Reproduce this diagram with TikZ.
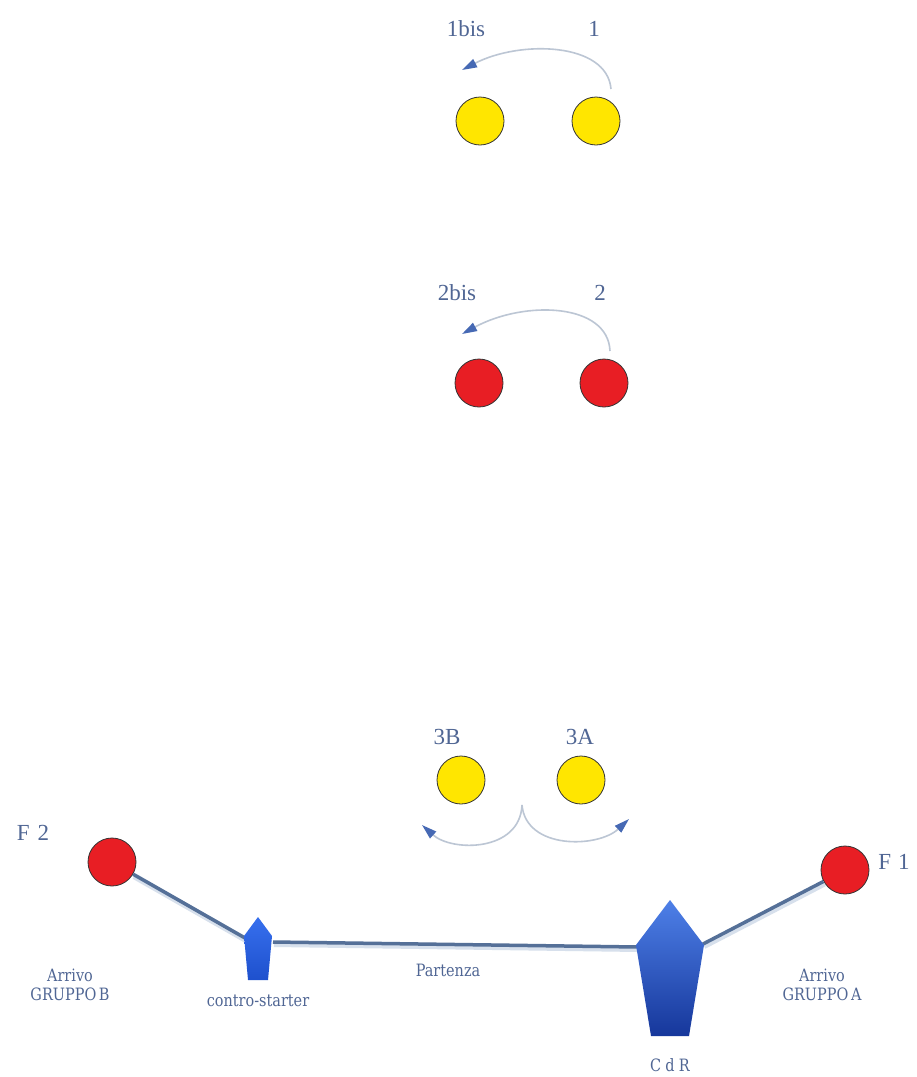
\documentclass[tikz,border=0pt]{standalone}
\usepackage{fontspec}
\setmainfont{Liberation Serif}
\newfontfamily\slab[FakeStretch=0.85]{DejaVu Serif}
\usetikzlibrary{arrows.meta,calc}
\definecolor{lbl}{RGB}{80,102,148}
\definecolor{dotyellow}{RGB}{255,230,0}
\definecolor{dotred}{RGB}{232,30,36}
\definecolor{arcgray}{RGB}{188,198,212}
\definecolor{tipblue}{RGB}{70,105,180}
\definecolor{roadc}{RGB}{85,112,152}
\definecolor{roadshadow}{RGB}{215,224,236}
\definecolor{pentop}{RGB}{78,128,232}
\definecolor{penbot}{RGB}{22,55,155}
\definecolor{cstop}{RGB}{55,112,238}
\definecolor{csbot}{RGB}{30,80,205}
\begin{document}
\begin{tikzpicture}[x=1pt,y=-1pt,
  ydot/.style={circle,draw=black!80,line width=0.8pt,fill=dotyellow,minimum size=48pt,inner sep=0pt},
  rdot/.style={circle,draw=black!80,line width=0.8pt,fill=dotred,minimum size=48pt,inner sep=0pt},
  biglbl/.style={text=lbl,font=\fontsize{23}{25}\selectfont,inner sep=0pt},
  smlbl/.style={text=lbl,font=\slab\fontsize{17}{19}\selectfont,align=center,inner sep=0pt},
  turn/.style={draw=arcgray,line width=1.6pt,-{Triangle[length=15pt,width=9pt,color=tipblue]}},
  road/.style={draw=roadc,line width=3.5pt,preaction={draw=roadshadow,line width=6pt,transform canvas={shift={(1pt,-2pt)}}}},
  pent/.style={top color=pentop,bottom color=penbot,draw=none},
  cspent/.style={top color=cstop,bottom color=csbot,draw=none}
]
\path[fill=white] (0,0) rectangle (917,1077);
\useasboundingbox (0,0) rectangle (917,1077);

% group 1
\node[ydot] (y1l) at (480,121) {};
\node[ydot] (y1r) at (596,121) {};
\node[biglbl] (l1bis) at (466,29) {1bis};
\node[biglbl] (l1) at (594,29) {1};
\coordinate (a1s) at (611,89);
\coordinate (a1e) at (462,70);
\draw[turn] (a1s) .. controls (607,42) and (520,40) .. (a1e);

% group 2
\node[rdot] (r2l) at (479,383) {};
\node[rdot] (r2r) at (604,383) {};
\node[biglbl] (l2bis) at (457,293) {2bis};
\node[biglbl] (l2) at (600,293) {2};
\coordinate (a2s) at (610,351);
\coordinate (a2e) at (462,334);
\draw[turn] (a2s) .. controls (608,303) and (525,300) .. (a2e);

% group 3
\node[ydot] (y3b) at (461,780) {};
\node[ydot] (y3a) at (581,780) {};
\node[biglbl] (l3b) at (447,737) {3B};
\node[biglbl] (l3a) at (580,737) {3A};
\coordinate (cusp) at (522,805);
\coordinate (a3l) at (422,825);
\coordinate (a3r) at (629,819);
\draw[turn] (cusp) .. controls (520,852) and (452,852) .. (a3l);
\draw[turn] (cusp) .. controls (526,850) and (598,848) .. (a3r);

% field
\node[rdot] (f2) at (112,862) {};
\node[rdot] (f1) at (845,870) {};
\node[biglbl] (lf2) at (33,833) {F\hspace{0.35em}2};
\node[biglbl] (lf1) at (894,862) {F\hspace{0.3em}1};

\coordinate (csl) at (245,938);
\coordinate (csr) at (273,942);
\coordinate (cdrl) at (638,947);
\coordinate (cdrr) at (703,944);

\draw[road] (f2.-30) -- (csl);
\draw[road] (csr) -- (cdrl);
\draw[road] (cdrr) -- (f1.208);

% contro-starter pentagon
\path[cspent] (258,917) -- (272,936) -- (268,980) -- (248,980) -- (244,936) -- cycle;
% CdR pentagon
\path[pent] (670,900) -- (704,945) -- (689,1036) -- (651,1036) -- (636,945) -- cycle;

\node[smlbl] (arrB) at (70,985) {Arrivo\\GRUPPO\hspace{0.15em}B};
\node[smlbl] (arrA) at (822,985) {Arrivo\\GRUPPO\hspace{0.15em}A};
\node[smlbl] (cstart) at (258,1001) {contro-starter};
\node[smlbl] (part) at (448,970) {Partenza};
\node[smlbl] (cdr) at (670,1065) {C\hspace{0.25em}d\hspace{0.25em}R};
\end{tikzpicture}
\end{document}
